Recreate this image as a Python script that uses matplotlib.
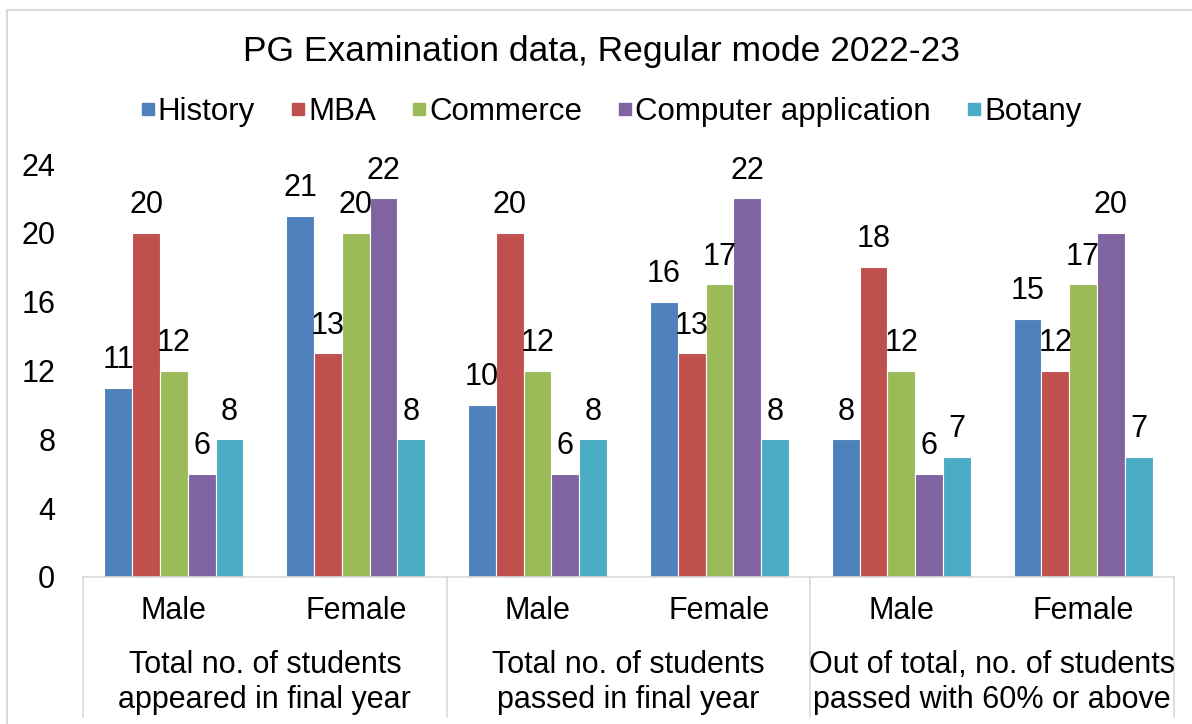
import numpy as np
import matplotlib
matplotlib.use("Agg")
import matplotlib.pyplot as plt
from matplotlib.lines import Line2D
import matplotlib.transforms as mtransforms

plt.rcParams['font.family'] = ['Liberation Sans', 'DejaVu Sans']

# Data
subjects = ["History", "MBA", "Commerce", "Computer application", "Botany"]
genders = ["Male", "Female", "Male", "Female", "Male", "Female"]
groups = ["Total no. of students\nappeared in final year",
          "Total no. of students\npassed in final year",
          "Out of total, no. of students\npassed with 60% or above"]

history = [11, 21, 10, 16, 8, 15]
mba = [20, 13, 20, 13, 18, 12]
commerce = [12, 20, 12, 17, 12, 17]
comp_app = [6, 22, 6, 22, 6, 20]
botany = [8, 8, 8, 8, 7, 7]

colors = ["#4F81BD", "#C0504D", "#9BBB59", "#8064A2", "#4BACC6"]
grid_grey = "#d9d9d9"

fig = plt.figure(figsize=(11.92, 7.24), dpi=100)
ax = fig.add_axes([83 / 1192, 1 - 577 / 724, (1174 - 83) / 1192, (577 - 164) / 724])

series = [history, mba, commerce, comp_app, botany]
x = np.arange(len(genders))
w = 0.764 / len(series)

for i, (vals, col) in enumerate(zip(series, colors)):
    pos = x + (i - 2) * w
    bars = ax.bar(pos, vals, width=w, color=col, edgecolor="white", linewidth=0.8)
    for b, v in zip(bars, vals):
        ax.annotate(str(v), (b.get_x() + b.get_width() / 2, v),
                    xytext=(0, 20), textcoords="offset points",
                    ha="center", va="center", fontsize=22)

ax.set_xlim(-0.5, len(genders) - 0.5)
ax.set_ylim(0, 24)
ax.set_yticks(range(0, 25, 4))
ax.tick_params(axis="y", length=0, labelsize=22, pad=20)
ax.tick_params(axis="x", length=0, labelbottom=False)
for s in ["top", "right", "left"]:
    ax.spines[s].set_visible(False)
ax.spines["bottom"].set_color(grid_grey)
ax.spines["bottom"].set_linewidth(1.2)

# multi-level category axis
trans = mtransforms.blended_transform_factory(ax.transData, ax.transAxes)
for xi, g in zip(x, genders):
    ax.text(xi, -0.082, g, transform=trans, ha="center", va="center", fontsize=22)
for gi, g in enumerate(groups):
    ax.text(2 * gi + 0.5, -0.255, g, transform=trans, ha="center", va="center",
            fontsize=22, linespacing=1.2)
for sx in [-0.5, 1.5, 3.5, 5.5]:
    ax.plot([sx, sx], [0, -0.339], transform=trans, color=grid_grey,
            lw=1.2, clip_on=False)

fig.suptitle("PG Examination data, Regular mode 2022-23", fontsize=25.5,
             x=0.505, y=1 - 52 / 724, va="center")

handles = [Line2D([0], [0], marker="s", linestyle="none", markersize=8,
                  markerfacecolor=c, markeredgecolor=c) for c in colors]
fig.legend(handles, subjects, loc="center", bbox_to_anchor=(0.512, 1 - 112 / 724),
           ncol=5, frameon=False, fontsize=22.5, handletextpad=0.05,
           columnspacing=1.1, handlelength=0.55)

# chart area border (top and left visible)
fig.add_artist(Line2D([7 / 1192, 1], [1 - 10 / 724, 1 - 10 / 724],
                      transform=fig.transFigure, color=grid_grey, lw=1.5))
fig.add_artist(Line2D([7 / 1192, 7 / 1192], [0, 1 - 10 / 724],
                      transform=fig.transFigure, color=grid_grey, lw=1.5))

fig.savefig("out.png", dpi=100)
